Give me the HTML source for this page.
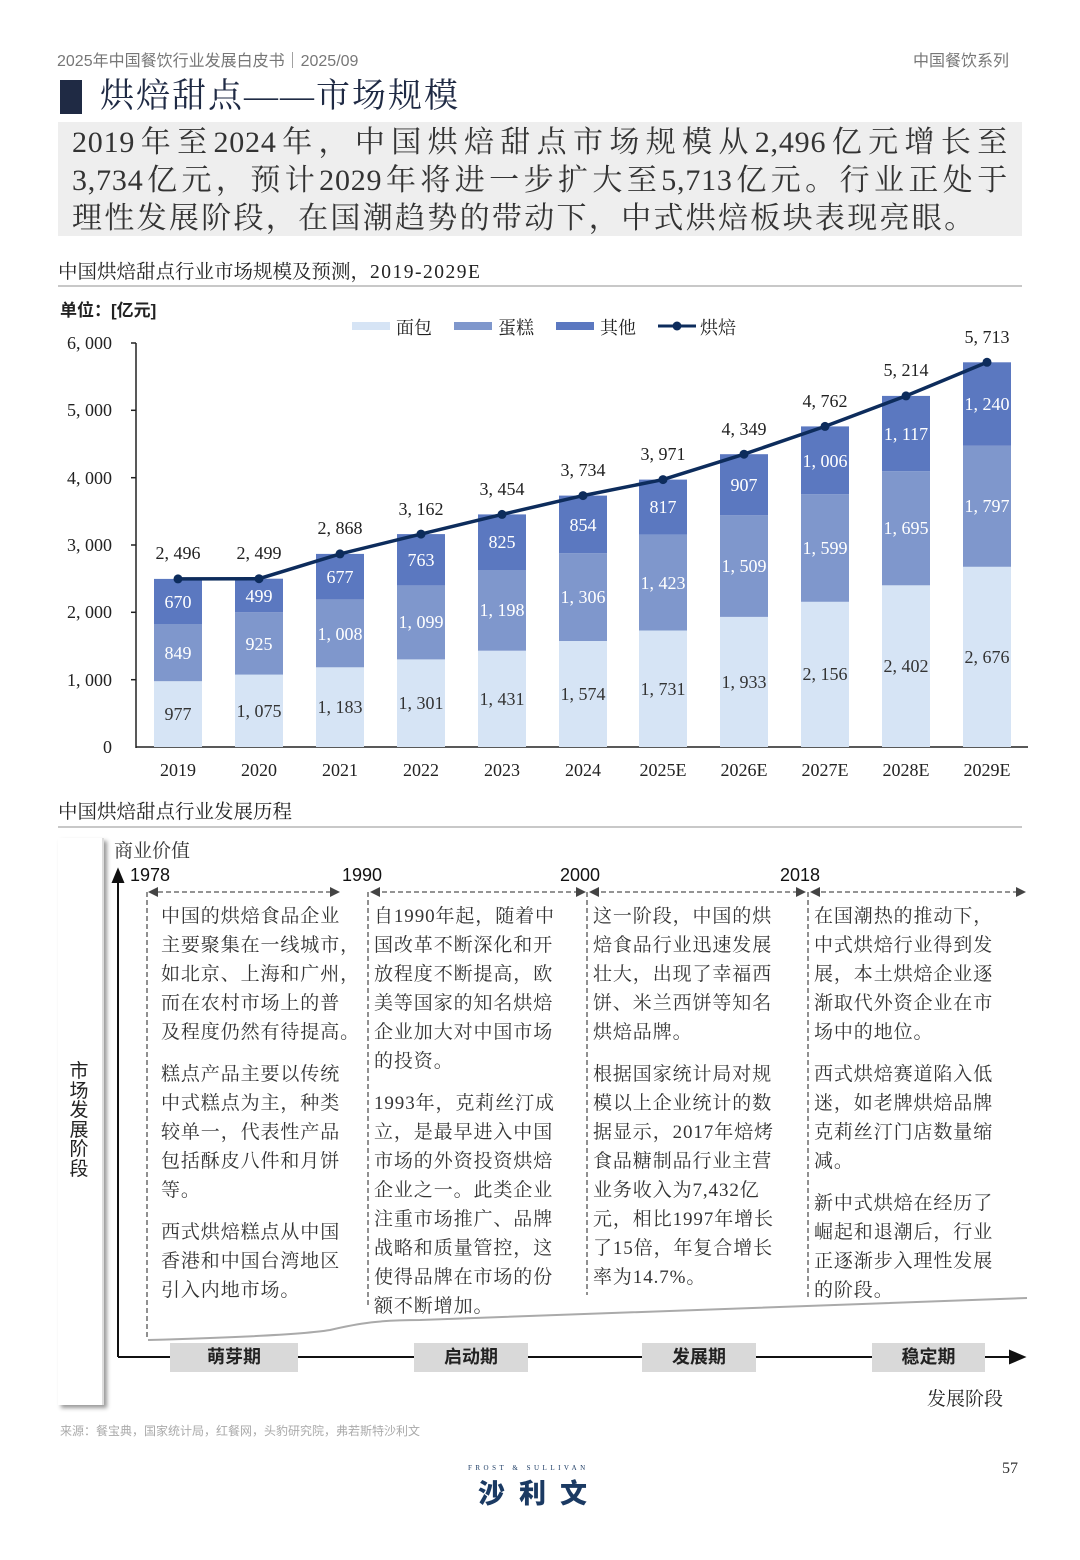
<!DOCTYPE html>
<html><head><meta charset="utf-8"><style>
body{margin:0;background:#fff}
#p{position:relative;width:1080px;height:1560px;overflow:hidden;font-family:"Liberation Serif","Noto Serif CJK SC",serif;color:#222}
.a{position:absolute;white-space:nowrap}
.col{position:absolute;font-size:19px;line-height:29px;color:#333;white-space:nowrap;letter-spacing:0.9px}
.col p{margin:0 0 13px 0}
.st{position:absolute;top:1343px;height:29px;background:#d9d9d9;font:bold 18px/29px "Liberation Sans","Noto Sans CJK SC",sans-serif;text-align:center;color:#222}
.jl{display:block;width:936px;text-align:justify;text-align-last:justify;height:38px}
</style></head><body><div id="p">
<div class="a" style="left:57px;top:47px;font:16px 'Liberation Sans','Noto Sans CJK SC',sans-serif;color:#777">2025年中国餐饮行业发展白皮书｜2025/09</div>
<div class="a" style="left:913px;top:47px;font:16px 'Liberation Sans','Noto Sans CJK SC',sans-serif;color:#777">中国餐饮系列</div>
<div class="a" style="left:60px;top:80px;width:22px;height:34px;background:#1f2a44"></div>
<div class="a" style="left:100px;top:75px;font-size:34px;line-height:44px;color:#1f2a44;letter-spacing:2px">烘焙甜点——市场规模</div>
<div class="a" style="left:58px;top:122px;width:964px;height:114px;background:#eeeeee"></div>
<div class="a" style="left:72px;top:124px;font-size:30px;line-height:38px;color:#333;letter-spacing:0.8px"><span class="jl">2019年至2024年，中国烘焙甜点市场规模从2,496亿元增长至</span><span class="jl">3,734亿元，预计2029年将进一步扩大至5,713亿元。行业正处于</span><span style="display:block;letter-spacing:2.3px">理性发展阶段，在国潮趋势的带动下，中式烘焙板块表现亮眼。</span></div>
<div class="a" style="left:58px;top:256px;font-size:19.5px;color:#222">中国烘焙甜点行业市场规模及预测，<span style="letter-spacing:1.5px">2019-2029E</span></div>
<div class="a" style="left:58px;top:285px;width:964px;height:2px;background:#c8c8c8"></div>
<div class="a" style="left:58px;top:796px;font-size:19.5px;color:#222">中国烘焙甜点行业发展历程</div>
<div class="a" style="left:58px;top:826px;width:964px;height:2px;background:#c8c8c8"></div>
<div class="a" style="left:60px;top:296px;font-size:17px;font-weight:bold;font-family:'Liberation Sans','Noto Sans CJK SC',sans-serif">单位：[亿元]</div>

<svg class="a" style="left:0;top:0" width="1080" height="800" font-family="Liberation Serif, Noto Serif CJK SC, serif">
<g font-size="18" fill="#222">
<rect x="352" y="322" width="38" height="8" fill="#d6e4f5"/><text x="396" y="334">面包</text>
<rect x="454" y="322" width="38" height="8" fill="#7f97cc"/><text x="498" y="334">蛋糕</text>
<rect x="556" y="322" width="38" height="8" fill="#5b78c0"/><text x="600" y="334">其他</text>
<line x1="658" y1="326" x2="696" y2="326" stroke="#0d2c5c" stroke-width="3"/><circle cx="677" cy="326" r="4.5" fill="#0d2c5c"/><text x="700" y="334">烘焙</text>
</g>
<g stroke="#222" stroke-width="1.5">
<line x1="136" y1="343" x2="136" y2="748"/><line x1="136" y1="747" x2="1028" y2="747"/>
<line x1="131" y1="343" x2="136" y2="343"/><line x1="131" y1="410.3" x2="136" y2="410.3"/><line x1="131" y1="477.7" x2="136" y2="477.7"/><line x1="131" y1="545" x2="136" y2="545"/><line x1="131" y1="612.3" x2="136" y2="612.3"/><line x1="131" y1="679.7" x2="136" y2="679.7"/>
</g>
<g font-size="18" fill="#222" text-anchor="end">
<text x="112" y="349">6, 000</text><text x="112" y="416">5, 000</text><text x="112" y="484">4, 000</text><text x="112" y="551">3, 000</text><text x="112" y="618">2, 000</text><text x="112" y="686">1, 000</text><text x="112" y="753">0</text>
</g>
<g>
<g fill="#d6e4f5">
<rect x="154" y="681.2" width="48" height="65.8"/><rect x="235" y="674.6" width="48" height="72.4"/><rect x="316" y="667.3" width="48" height="79.7"/><rect x="397" y="659.4" width="48" height="87.6"/><rect x="478" y="650.7" width="48" height="96.3"/><rect x="559" y="641" width="48" height="106"/><rect x="639" y="630.5" width="48" height="116.5"/><rect x="720" y="616.9" width="48" height="130.1"/><rect x="801" y="601.8" width="48" height="145.2"/><rect x="882" y="585.3" width="48" height="161.7"/><rect x="963" y="566.8" width="48" height="180.2"/>
</g>
<g fill="#7f97cc">
<rect x="154" y="624" width="48" height="57.2"/><rect x="235" y="612.3" width="48" height="62.3"/><rect x="316" y="599.4" width="48" height="67.9"/><rect x="397" y="585.4" width="48" height="74"/><rect x="478" y="570" width="48" height="80.7"/><rect x="559" y="553.1" width="48" height="87.9"/><rect x="639" y="534.7" width="48" height="95.8"/><rect x="720" y="515.3" width="48" height="101.6"/><rect x="801" y="494.1" width="48" height="107.7"/><rect x="882" y="471.2" width="48" height="114.1"/><rect x="963" y="445.8" width="48" height="121"/>
</g>
<g fill="#5b78c0">
<rect x="154" y="578.9" width="48" height="45.1"/><rect x="235" y="578.7" width="48" height="33.6"/><rect x="316" y="553.9" width="48" height="45.5"/><rect x="397" y="534.1" width="48" height="51.3"/><rect x="478" y="514.4" width="48" height="55.6"/><rect x="559" y="495.6" width="48" height="57.5"/><rect x="639" y="479.6" width="48" height="55.1"/><rect x="720" y="454.2" width="48" height="61.1"/><rect x="801" y="426.4" width="48" height="67.7"/><rect x="882" y="395.9" width="48" height="75.3"/><rect x="963" y="362.3" width="48" height="83.5"/>
</g>
</g>
<polyline fill="none" stroke="#0d2c5c" stroke-width="3.5" points="178,578.9 259,578.7 340,553.9 421,534.1 502,514.4 583,495.6 663,479.6 744,454.2 825,426.4 906,395.9 987,362.3"/>
<g fill="#0d2c5c"><circle cx="178" cy="578.9" r="4.5"/><circle cx="259" cy="578.7" r="4.5"/><circle cx="340" cy="553.9" r="4.5"/><circle cx="421" cy="534.1" r="4.5"/><circle cx="502" cy="514.4" r="4.5"/><circle cx="583" cy="495.6" r="4.5"/><circle cx="663" cy="479.6" r="4.5"/><circle cx="744" cy="454.2" r="4.5"/><circle cx="825" cy="426.4" r="4.5"/><circle cx="906" cy="395.9" r="4.5"/><circle cx="987" cy="362.3" r="4.5"/></g>
<g font-size="18" text-anchor="middle" fill="#333">
<text x="178" y="720">977</text><text x="259" y="717">1, 075</text><text x="340" y="713">1, 183</text><text x="421" y="709">1, 301</text><text x="502" y="705">1, 431</text><text x="583" y="700">1, 574</text><text x="663" y="695">1, 731</text><text x="744" y="688">1, 933</text><text x="825" y="680">2, 156</text><text x="906" y="672">2, 402</text><text x="987" y="663">2, 676</text>
</g>
<g font-size="18" text-anchor="middle" fill="#fff">
<text x="178" y="659">849</text><text x="259" y="650">925</text><text x="340" y="640">1, 008</text><text x="421" y="628">1, 099</text><text x="502" y="616">1, 198</text><text x="583" y="603">1, 306</text><text x="663" y="589">1, 423</text><text x="744" y="572">1, 509</text><text x="825" y="554">1, 599</text><text x="906" y="534">1, 695</text><text x="987" y="512">1, 797</text>
<text x="178" y="608">670</text><text x="259" y="602">499</text><text x="340" y="583">677</text><text x="421" y="566">763</text><text x="502" y="548">825</text><text x="583" y="531">854</text><text x="663" y="513">817</text><text x="744" y="491">907</text><text x="825" y="467">1, 006</text><text x="906" y="440">1, 117</text><text x="987" y="410">1, 240</text>
</g>
<g font-size="18" text-anchor="middle" fill="#222">
<text x="178" y="559">2, 496</text><text x="259" y="559">2, 499</text><text x="340" y="534">2, 868</text><text x="421" y="515">3, 162</text><text x="502" y="495">3, 454</text><text x="583" y="476">3, 734</text><text x="663" y="460">3, 971</text><text x="744" y="435">4, 349</text><text x="825" y="407">4, 762</text><text x="906" y="376">5, 214</text><text x="987" y="343">5, 713</text>
</g>
<g font-size="18" text-anchor="middle" fill="#222">
<text x="178" y="776">2019</text><text x="259" y="776">2020</text><text x="340" y="776">2021</text><text x="421" y="776">2022</text><text x="502" y="776">2023</text><text x="583" y="776">2024</text><text x="663" y="776">2025E</text><text x="744" y="776">2026E</text><text x="825" y="776">2027E</text><text x="906" y="776">2028E</text><text x="987" y="776">2029E</text>
</g>
</svg>

<div class="a" style="left:58px;top:838px;width:44px;height:567px;background:#fff;box-shadow:3px 3px 4px #999;border-right:2px solid #ddd"></div>
<div class="a" style="left:68px;top:1062px;width:22px;font-size:19px;line-height:19.5px;white-space:normal;text-align:center;font-family:'Liberation Sans','Noto Sans CJK SC',sans-serif">市场发展阶段</div>
<svg class="a" style="left:0;top:830px" width="1080" height="580">
<g stroke="#111" stroke-width="2" fill="#111">
<line x1="118" y1="527" x2="118" y2="48"/><polygon points="113,52 123,52 118,40"/>
<line x1="118" y1="527" x2="1012" y2="527"/><polygon points="1010,521 1024,527 1010,533"/>
</g>
<g stroke="#555" stroke-width="1.3" stroke-dasharray="5,3" fill="none">
<line x1="150" y1="62" x2="336" y2="62"/><line x1="374" y1="62" x2="583" y2="62"/><line x1="593" y1="62" x2="803" y2="62"/><line x1="813" y1="62" x2="1022" y2="62"/>
<line x1="147" y1="62" x2="147" y2="510"/><line x1="368" y1="62" x2="368" y2="478"/><line x1="587" y1="62" x2="587" y2="465"/><line x1="808" y1="62" x2="808" y2="470"/>
</g>
<g fill="#444">
<polygon points="148,62 158,57 158,67"/><polygon points="340,62 330,57 330,67"/>
<polygon points="370,62 380,57 380,67"/><polygon points="586,62 576,57 576,67"/>
<polygon points="589,62 599,57 599,67"/><polygon points="806,62 796,57 796,67"/>
<polygon points="810,62 820,57 820,67"/><polygon points="1026,62 1016,57 1016,67"/>
</g>
<path d="M148,510 C220,508 300,505 330,500 C360,493 380,490 420,490 L1027,468" stroke="#aaa" stroke-width="2" fill="none"/>
</svg>
<div class="a" style="left:114px;top:836px;font-size:19px;color:#333">商业价值</div>
<div class="a" style="left:130px;top:865px;font:18px 'Liberation Sans',sans-serif;color:#111">1978</div>
<div class="a" style="left:342px;top:865px;font:18px 'Liberation Sans',sans-serif;color:#111">1990</div>
<div class="a" style="left:560px;top:865px;font:18px 'Liberation Sans',sans-serif;color:#111">2000</div>
<div class="a" style="left:780px;top:865px;font:18px 'Liberation Sans',sans-serif;color:#111">2018</div>
<div class="col" style="left:161px;top:902px"><p>中国的烘焙食品企业<br>主要聚集在一线城市，<br>如北京、上海和广州，<br>而在农村市场上的普<br>及程度仍然有待提高。</p><p>糕点产品主要以传统<br>中式糕点为主，种类<br>较单一，代表性产品<br>包括酥皮八件和月饼<br>等。</p><p>西式烘焙糕点从中国<br>香港和中国台湾地区<br>引入内地市场。</p></div>
<div class="col" style="left:374px;top:902px"><p>自1990年起，随着中<br>国改革不断深化和开<br>放程度不断提高，欧<br>美等国家的知名烘焙<br>企业加大对中国市场<br>的投资。</p><p>1993年，克莉丝汀成<br>立，是最早进入中国<br>市场的外资投资烘焙<br>企业之一。此类企业<br>注重市场推广、品牌<br>战略和质量管控，这<br>使得品牌在市场的份<br>额不断增加。</p></div>
<div class="col" style="left:593px;top:902px"><p>这一阶段，中国的烘<br>焙食品行业迅速发展<br>壮大，出现了幸福西<br>饼、米兰西饼等知名<br>烘焙品牌。</p><p>根据国家统计局对规<br>模以上企业统计的数<br>据显示，2017年焙烤<br>食品糖制品行业主营<br>业务收入为7,432亿<br>元，相比1997年增长<br>了15倍，年复合增长<br>率为14.7%。</p></div>
<div class="col" style="left:814px;top:902px"><p>在国潮热的推动下，<br>中式烘焙行业得到发<br>展，本土烘焙企业逐<br>渐取代外资企业在市<br>场中的地位。</p><p>西式烘焙赛道陷入低<br>迷，如老牌烘焙品牌<br>克莉丝汀门店数量缩<br>减。</p><p>新中式烘焙在经历了<br>崛起和退潮后，行业<br>正逐渐步入理性发展<br>的阶段。</p></div>
<div class="st" style="left:170px;width:128px">萌芽期</div>
<div class="st" style="left:414px;width:114px">启动期</div>
<div class="st" style="left:642px;width:114px">发展期</div>
<div class="st" style="left:872px;width:113px">稳定期</div>
<div class="a" style="left:927px;top:1384px;font-size:19px;color:#222">发展阶段</div>
<div class="a" style="left:60px;top:1422px;font:12px 'Liberation Sans','Noto Sans CJK SC',sans-serif;color:#aaa">来源：餐宝典，国家统计局，红餐网，头豹研究院，弗若斯特沙利文</div>
<div class="a" style="left:468px;top:1464px;font:7px 'Liberation Serif',serif;letter-spacing:3.5px;color:#1b3a63">FROST &amp; SULLIVAN</div>
<div class="a" style="left:478px;top:1472px;font:900 27px 'Liberation Sans','Noto Sans CJK SC',sans-serif;letter-spacing:14px;color:#1b3a63">沙利文</div>
<div class="a" style="left:1002px;top:1460px;font:16px 'Liberation Serif',serif;color:#333">57</div>
</div></body></html>
